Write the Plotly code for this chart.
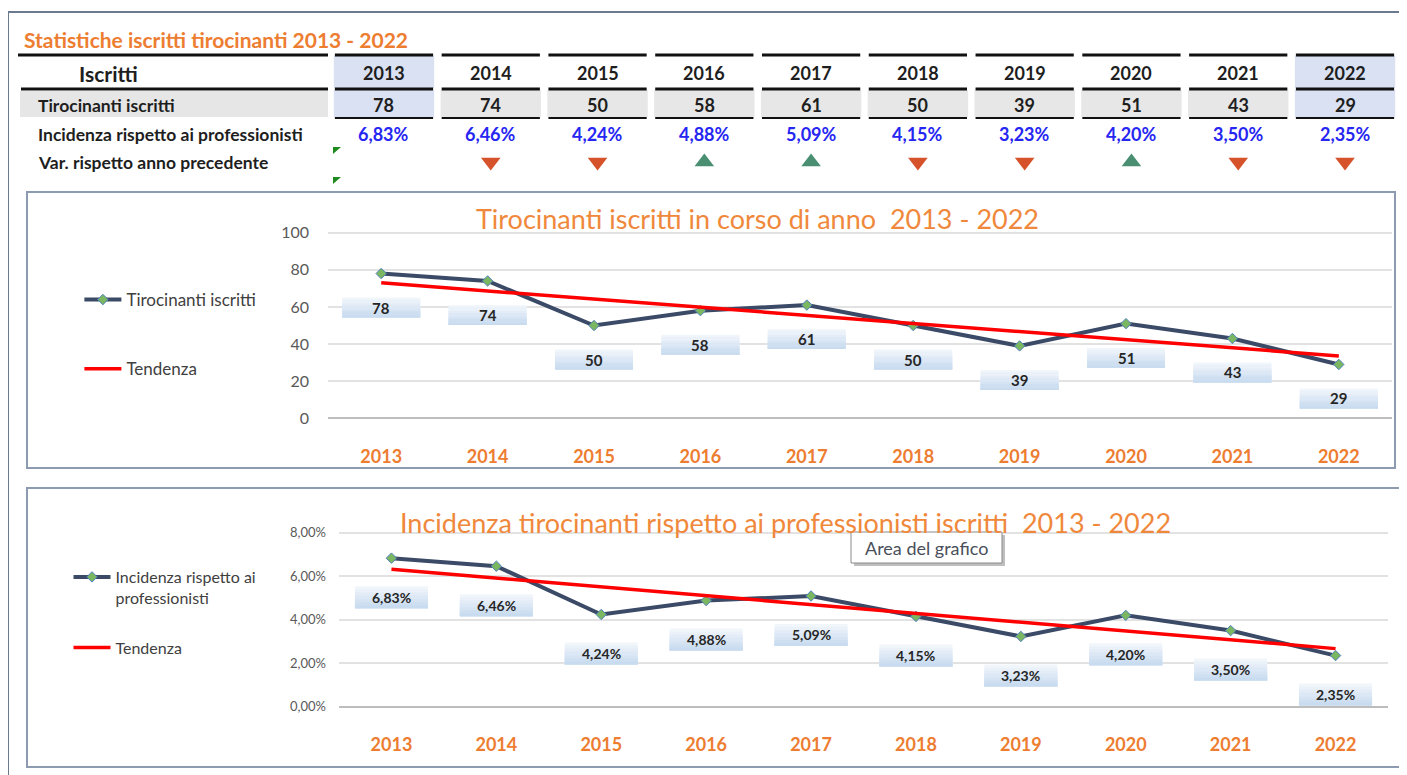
import plotly.graph_objects as go

# ---------------- data ----------------
years = ["2013", "2014", "2015", "2016", "2017", "2018", "2019", "2020", "2021", "2022"]
tirocinanti = [78, 74, 50, 58, 61, 50, 39, 51, 43, 29]
incidenza = [6.83, 6.46, 4.24, 4.88, 5.09, 4.15, 3.23, 4.20, 3.50, 2.35]
variazione = ["", "down", "down", "up", "up", "down", "down", "up", "down", "down"]
trend_years = ["2013", "2022"]
trend_tirocinanti = [73.0, 33.6]
trend_incidenza = [6.32, 2.67]
y1_ticks = [0, 20, 40, 60, 80, 100]
y2_ticks = [0, 2, 4, 6, 8]

# ---------------- geometry helpers ----------------
W, H = 1407, 775
OFF = 8  # page body margin
FONT = "Lato"
ORANGE = "#ED7D31"
TITLE_ORANGE = "#F0883C"


def fx(px):
    return (px - OFF) / W


def fy(py):
    return 1 - (py - OFF) / H


def ydom(p_lo, p_hi, v_lo, v_hi, r_lo, r_hi):
    ppu = (p_lo - p_hi) / (v_hi - v_lo)
    bottom = p_lo + (v_lo - r_lo) * ppu
    top = p_hi - (r_hi - v_hi) * ppu
    return [fy(bottom), fy(top)]


def pct(v):
    return ("%.2f%%" % v).replace(".", ",")


def ann(**kw):
    d = dict(showarrow=False, xanchor="center", yanchor="middle")
    d.update(kw)
    return d


fig = go.Figure()

LINE_COL = "#3B4A66"
MARKER = dict(symbol="diamond", size=8, color="#7BB661", line=dict(color="#4F81BD", width=1))

# chart 1
fig.add_trace(go.Scatter(x=years, y=tirocinanti, mode="lines+markers", name="Tirocinanti iscritti",
                         line=dict(color=LINE_COL, width=4), marker=MARKER,
                         xaxis="x", yaxis="y", legend="legend", legendgroup="a"))
fig.add_trace(go.Scatter(x=trend_years, y=trend_tirocinanti, mode="lines", name="Tendenza",
                         line=dict(color="#FF0000", width=3.5),
                         xaxis="x", yaxis="y", legend="legend", legendgroup="b"))
# chart 2
fig.add_trace(go.Scatter(x=years, y=incidenza, mode="lines+markers", name="Incidenza rispetto ai<br>professionisti",
                         line=dict(color=LINE_COL, width=4), marker=MARKER,
                         xaxis="x2", yaxis="y2", legend="legend2", legendgroup="c"))
fig.add_trace(go.Scatter(x=trend_years, y=trend_incidenza, mode="lines", name="Tendenza",
                         line=dict(color="#FF0000", width=3.5),
                         xaxis="x2", yaxis="y2", legend="legend2", legendgroup="d"))

# table triangles (variation vs previous year)
ROW_HEAD, ROW_VAL, ROW_PCT, ROW_VAR = 73, 105, 134, 162
ups = [y for y, v in zip(years, variazione) if v == "up"]
downs = [y for y, v in zip(years, variazione) if v == "down"]
fig.add_trace(go.Scatter(x=ups, y=[ROW_VAR] * len(ups), mode="markers", showlegend=False,
                         marker=dict(symbol="triangle-up", size=17, color="#4A8F72"),
                         xaxis="x3", yaxis="y3", hoverinfo="skip"))
fig.add_trace(go.Scatter(x=downs, y=[ROW_VAR] * len(downs), mode="markers", showlegend=False,
                         marker=dict(symbol="triangle-down", size=17, color="#D6522B"),
                         xaxis="x3", yaxis="y3", hoverinfo="skip"))

shapes = []
annotations = []

# outer frame
shapes.append(dict(type="rect", xref="paper", yref="paper", x0=fx(8), x1=fx(1420), y0=fy(12), y1=fy(790),
                   line=dict(color="#6B7A8F", width=2), layer="below"))
# chart frames
shapes.append(dict(type="rect", xref="paper", yref="paper", x0=fx(27), x1=fx(1395), y0=fy(192), y1=fy(468),
                   line=dict(color="#8C9BB0", width=2), layer="below"))
shapes.append(dict(type="rect", xref="paper", yref="paper", x0=fx(27), x1=fx(1400), y0=fy(488), y1=fy(767),
                   line=dict(color="#8C9BB0", width=2), layer="below"))

# table: label column
shapes.append(dict(type="line", xref="paper", yref="y3", x0=fx(18), x1=fx(328), y0=55, y1=55,
                   line=dict(color="#111", width=3)))
shapes.append(dict(type="line", xref="paper", yref="y3", x0=fx(21), x1=fx(328), y0=89, y1=89,
                   line=dict(color="#111", width=3)))
shapes.append(dict(type="rect", xref="paper", yref="y3", x0=fx(20), x1=fx(328), y0=91, y1=117,
                   fillcolor="#E6E6E6", line=dict(width=0), layer="below"))
# table: year columns
BLUE = "#D9E1F2"
for i, yr in enumerate(years):
    hl = i in (0, len(years) - 1)
    if hl:
        shapes.append(dict(type="rect", xref="x3", yref="y3", x0=i - 0.47, x1=i + 0.47, y0=56, y1=88,
                           fillcolor=BLUE, line=dict(width=0), layer="below"))
    shapes.append(dict(type="rect", xref="x3", yref="y3", x0=i - 0.47, x1=i + 0.47, y0=90, y1=117,
                       fillcolor=BLUE if hl else "#E7E7E7", line=dict(width=0), layer="below"))
    for yy, wd in ((55, 3), (89, 3), (118, 2)):
        shapes.append(dict(type="line", xref="x3", yref="y3", x0=i - 0.46, x1=i + 0.46, y0=yy, y1=yy,
                           line=dict(color="#111", width=wd)))
    annotations.append(ann(x=i, y=ROW_HEAD, xref="x3", yref="y3", text="<b>%s</b>" % yr,
                           font=dict(family=FONT, size=18, color="#1E1E1E")))
    annotations.append(ann(x=i, y=ROW_VAL, xref="x3", yref="y3", text="<b>%d</b>" % tirocinanti[i],
                           font=dict(family=FONT, size=18, color="#1E1E1E")))
    annotations.append(ann(x=i, y=ROW_PCT, xref="x3", yref="y3", text="<b>%s</b>" % pct(incidenza[i]),
                           font=dict(family=FONT, size=18, color="#2626F2")))

# green error-indicator corners
for yy in (147, 177):
    shapes.append(dict(type="path", xref="paper", yref="paper",
                       path="M %f %f L %f %f L %f %f Z" % (fx(333), fy(yy), fx(341), fy(yy), fx(333), fy(yy + 7)),
                       fillcolor="#1F8A1F", line=dict(width=0)))

# table text labels
annotations.append(ann(x=fx(22), y=fy(40), xref="paper", yref="paper", xanchor="left",
                       text="<b>Statistiche iscritti tirocinanti 2013 - 2022</b>",
                       font=dict(family=FONT, size=21, color=ORANGE)))
annotations.append(ann(x=fx(77), y=ROW_HEAD, xref="paper", yref="y3", xanchor="left", text="<b>Iscritti</b>",
                       font=dict(family=FONT, size=21, color="#1E1E1E")))
for txt, yy in (("Tirocinanti iscritti", ROW_VAL), ("Incidenza rispetto ai professionisti", ROW_PCT),
                ("Var. rispetto anno precedente", ROW_VAR)):
    annotations.append(ann(x=fx(36), y=yy, xref="paper", yref="y3", xanchor="left", text="<b>%s</b>" % txt,
                           font=dict(family=FONT, size=17.5, color="#1E1E1E")))

# chart titles
annotations.append(ann(x=fx(757), y=fy(218), xref="paper", yref="paper",
                       text="Tirocinanti iscritti in corso di anno  2013 - 2022",
                       font=dict(family=FONT, size=27, color=TITLE_ORANGE)))
annotations.append(ann(x=fx(785), y=fy(522), xref="paper", yref="paper",
                       text="Incidenza tirocinanti rispetto ai professionisti iscritti  2013 - 2022",
                       font=dict(family=FONT, size=27, color=TITLE_ORANGE)))

# data labels: gradient boxes made of pixel-sized shapes anchored on the data point
BANDS = ["#F1F6FB", "#EAF1F9", "#E3ECF7", "#DCE8F5", "#D5E3F3", "#CEDFF1", "#C8DBEF"]


def data_label(i, v, text, xref, yref, shift, width, box_h, size):
    n = len(BANDS)
    top = shift + box_h / 2.0
    bottom = shift - box_h / 2.0
    for k, col in enumerate(BANDS):
        # each layer spans from its own top down to the box bottom (no seams)
        y_hi = round(top - box_h * k / n)
        shapes.append(dict(type="rect", xref=xref, yref=yref, xsizemode="pixel", ysizemode="pixel",
                           xanchor=i, yanchor=v, x0=-width / 2.0, x1=width / 2.0, y0=round(bottom), y1=y_hi,
                           fillcolor=col, line=dict(width=0), layer="above"))
    annotations.append(ann(x=i, y=v, xref=xref, yref=yref, text="<b>%s</b>" % text, yshift=shift,
                           font=dict(family=FONT, size=size, color="#262626")))


for i, v in enumerate(tirocinanti):
    data_label(i, v, "%d" % v, "x", "y", -34, 78, 21, 15)
for i, v in enumerate(incidenza):
    data_label(i, v, pct(v), "x2", "y2", -39, 73, 23, 14)

# "Area del grafico" tooltip
shapes.append(dict(type="rect", xref="paper", yref="paper", x0=fx(854), x1=fx(1005), y0=fy(535), y1=fy(566),
                   fillcolor="rgba(0,0,0,0.25)", line=dict(width=0), layer="above"))
shapes.append(dict(type="rect", xref="paper", yref="paper", x0=fx(851), x1=fx(1002), y0=fy(532), y1=fy(563),
                   fillcolor="white", line=dict(color="#8A8A8A", width=1), layer="above"))
annotations.append(ann(x=fx(926.5), y=fy(547.5), xref="paper", yref="paper", text="Area del grafico",
                       font=dict(family=FONT, size=18, color="#4A4F5A")))

tickx = dict(family=FONT, size=18, color=ORANGE, weight="bold")

fig.update_layout(
    width=W, height=H, autosize=False,
    margin=dict(l=0, r=0, t=0, b=0, pad=0, autoexpand=False),
    paper_bgcolor="white", plot_bgcolor="rgba(0,0,0,0)",
    separators=",.",
    shapes=shapes, annotations=annotations,
    xaxis=dict(domain=[fx(328), fx(1392)], anchor="y", type="category", range=[-0.5, 9.5], showgrid=False,
               zeroline=False, showline=False, ticks="", tickfont=tickx, ticklabelstandoff=24, automargin=False),
    yaxis=dict(domain=ydom(418.3, 232.7, 0, 100, -1, 101), anchor="x", range=[-1, 101], tickvals=y1_ticks,
               showgrid=True, gridcolor="#E2E2E2", gridwidth=2, zeroline=True, zerolinecolor="#BDBDBD",
               zerolinewidth=2, showline=False, ticks="", ticklabelstandoff=18, automargin=False,
               tickfont=dict(family=FONT, size=16, color="#595959")),
    xaxis2=dict(domain=[fx(339), fx(1388)], anchor="y2", type="category", range=[-0.5, 9.5], showgrid=False,
                zeroline=False, showline=False, ticks="", tickfont=tickx, ticklabelstandoff=24, automargin=False),
    yaxis2=dict(domain=ydom(706.7, 532.7, 0, 8, -0.08, 8.08), anchor="x2", range=[-0.08, 8.08],
                tickvals=y2_ticks, ticktext=[pct(t) for t in y2_ticks], showgrid=True, gridcolor="#E2E2E2",
                gridwidth=2, zeroline=True, zerolinecolor="#BDBDBD", zerolinewidth=2, showline=False,
                ticks="", ticklabelstandoff=12, automargin=False,
                tickfont=dict(family=FONT, size=13, color="#595959")),
    xaxis3=dict(domain=[fx(330.6), fx(1398.4)], anchor="y3", type="category", categoryarray=years,
                range=[-0.5, 9.5], visible=False, automargin=False),
    yaxis3=dict(domain=[0, 1], anchor="x3", range=[H + OFF, OFF], visible=False, automargin=False),
    legend=dict(x=fx(79.4), y=fy(282), xanchor="left", yanchor="top", bgcolor="rgba(0,0,0,0)",
                font=dict(family=FONT, size=17, color="#404040"), tracegroupgap=44, itemwidth=37),
    legend2=dict(x=fx(68.5), y=fy(560), xanchor="left", yanchor="top", bgcolor="rgba(0,0,0,0)", valign="top",
                 font=dict(family=FONT, size=16, color="#404040"), tracegroupgap=26, itemwidth=37),
    hovermode=False,
)

fig.write_html("out.html")
